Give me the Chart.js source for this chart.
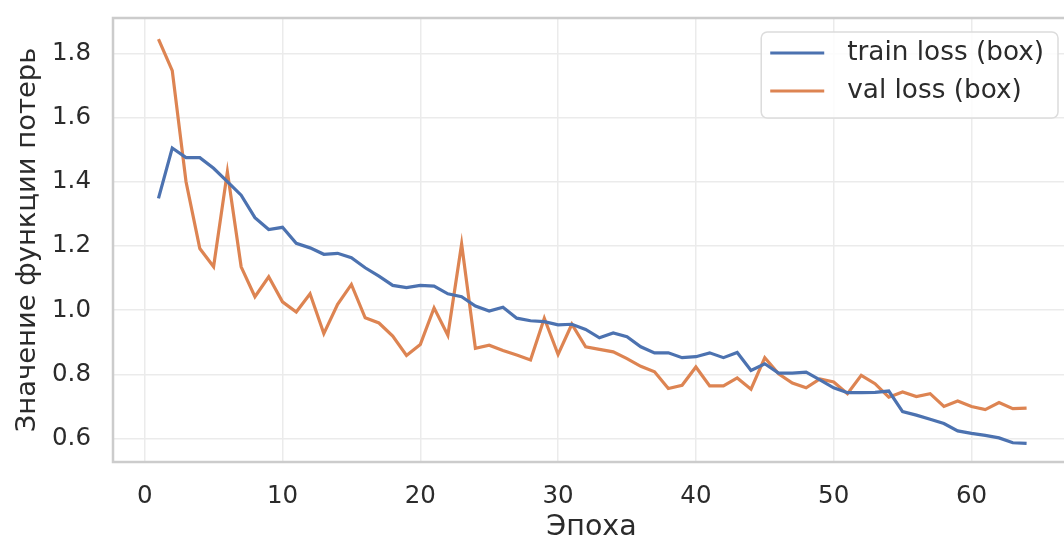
<!DOCTYPE html>
<html>
<head>
<meta charset="utf-8">
<script src="https://cdn.jsdelivr.net/npm/chart.js@4.4.1/dist/chart.umd.min.js"></script>
<style>
  html, body { margin: 0; padding: 0; background: #ffffff; width: 1064px; height: 547px; overflow: hidden; }
  #wrap { position: absolute; left: 0; top: 0; width: 1072px; height: 547px; }
</style>
</head>
<body>
<div id="wrap"><canvas id="c" width="1072" height="547"></canvas></div>
<script>
const epochs = [1,2,3,4,5,6,7,8,9,10,11,12,13,14,15,16,17,18,19,20,21,22,23,24,25,26,27,28,29,30,31,32,
  33,34,35,36,37,38,39,40,41,42,43,44,45,46,47,48,49,50,51,52,53,54,55,56,57,58,59,60,61,62,63,64];
const trainLoss = [1.348,1.505,1.475,1.475,1.442,1.400,1.358,1.288,1.251,1.258,1.208,1.194,1.174,1.177,1.163,1.132,
  1.106,1.077,1.070,1.077,1.075,1.051,1.042,1.013,0.997,1.009,0.975,0.967,0.964,0.954,0.956,0.940,
  0.914,0.929,0.917,0.886,0.867,0.867,0.852,0.855,0.867,0.852,0.868,0.812,0.833,0.804,0.804,0.807,
  0.783,0.758,0.743,0.743,0.744,0.748,0.684,0.673,0.660,0.647,0.624,0.616,0.610,0.602,0.587,0.585];
const valLoss = [1.844,1.746,1.400,1.192,1.135,1.431,1.135,1.042,1.104,1.026,0.994,1.051,0.927,1.018,1.080,0.976,
  0.960,0.919,0.859,0.893,1.007,0.922,1.206,0.881,0.891,0.874,0.860,0.845,0.975,0.862,0.956,0.886,
  0.878,0.870,0.849,0.825,0.808,0.756,0.766,0.823,0.764,0.764,0.789,0.754,0.852,0.802,0.773,0.758,
  0.786,0.776,0.740,0.797,0.771,0.729,0.745,0.731,0.740,0.700,0.717,0.700,0.690,0.712,0.693,0.695];
const xTicks = [0,10,20,30,40,50,60];
const yTicks = [0.6,0.8,1.0,1.2,1.4,1.6,1.8];
const seriesLabels = ['train loss (box)', 'val loss (box)'];
const xTitle = 'Эпоха';
const yTitle = 'Значение функции потерь';

const FONT = "'DejaVu Sans', sans-serif";
const TEXT = '#2b2b2b';

const framePlugin = {
  id: 'frame',
  afterDatasetsDraw(chart) {
    const {ctx, chartArea: a} = chart;
    ctx.save();
    ctx.strokeStyle = '#cccccc';
    ctx.lineWidth = 2.5;
    ctx.strokeRect(a.left, a.top, a.right - a.left, a.bottom - a.top);
    ctx.restore();
  }
};

const legendPlugin = {
  id: 'boxLegend',
  afterDraw(chart) {
    const {ctx, chartArea: a} = chart;
    const ds = chart.data.datasets;
    ctx.save();
    ctx.font = "26.3px " + FONT;
    let tw = 0;
    ds.forEach(d => { tw = Math.max(tw, ctx.measureText(d.label).width); });
    const padL = 9, lineLen = 54, gap = 23, padR = 14, rowH = 38, padT = 2;
    const w = padL + lineLen + gap + tw + padR;
    const h = padT * 2 + rowH * ds.length + 6;
    const x0 = a.right - 12 - w;
    const y0 = a.top + 14;
    const r = 6;
    ctx.beginPath();
    ctx.moveTo(x0 + r, y0);
    ctx.arcTo(x0 + w, y0, x0 + w, y0 + h, r);
    ctx.arcTo(x0 + w, y0 + h, x0, y0 + h, r);
    ctx.arcTo(x0, y0 + h, x0, y0, r);
    ctx.arcTo(x0, y0, x0 + w, y0, r);
    ctx.closePath();
    ctx.fillStyle = 'rgba(255,255,255,0.85)';
    ctx.fill();
    ctx.strokeStyle = '#dcdcdc';
    ctx.lineWidth = 1.5;
    ctx.stroke();
    ds.forEach((d, i) => {
      const cy = y0 + 21 + i * rowH;
      ctx.strokeStyle = d.borderColor;
      ctx.lineWidth = 3;
      ctx.beginPath();
      ctx.moveTo(x0 + padL, cy);
      ctx.lineTo(x0 + padL + lineLen, cy);
      ctx.stroke();
      ctx.fillStyle = TEXT;
      ctx.textBaseline = 'middle';
      ctx.textAlign = 'left';
      ctx.fillText(d.label, x0 + padL + lineLen + gap, cy);
    });
    ctx.restore();
  }
};

new Chart(document.getElementById('c'), {
  type: 'line',
  data: {
    datasets: [
      { label: seriesLabels[0], data: epochs.map((e, i) => ({x: e, y: trainLoss[i]})),
        borderColor: '#4C72B0', backgroundColor: '#4C72B0', borderWidth: 3.2, pointRadius: 0, tension: 0 },
      { label: seriesLabels[1], data: epochs.map((e, i) => ({x: e, y: valLoss[i]})),
        borderColor: '#DD8452', backgroundColor: '#DD8452', borderWidth: 3.2, pointRadius: 0, tension: 0 }
    ]
  },
  options: {
    responsive: false,
    animation: false,
    devicePixelRatio: 1,
    layout: { padding: { top: 18, right: 2, left: 0, bottom: 0 } },
    plugins: { legend: { display: false }, tooltip: { enabled: false } },
    scales: {
      x: {
        type: 'linear', min: -2.3, max: 67.15,
        afterFit(s) { s.height = 85; s.paddingLeft = 0; s.paddingRight = 0; },
        afterBuildTicks(s) { s.ticks = xTicks.map(v => ({value: v})); },
        grid: { color: '#ebebeb', lineWidth: 1.5, drawTicks: false },
        border: { display: false },
        ticks: { padding: 20, color: TEXT, font: { family: FONT, size: 24.5 }, maxRotation: 0,
                 callback: v => String(v) },
        title: { display: true, text: xTitle, color: TEXT, font: { family: FONT, size: 28.5 },
                 padding: { top: 0, bottom: 2 } }
      },
      y: {
        type: 'linear', min: 0.527, max: 1.91,
        afterFit(s) { s.width = 113; s.paddingTop = 0; s.paddingBottom = 0; },
        afterBuildTicks(s) { s.ticks = yTicks.map(v => ({value: v})); },
        grid: { color: '#ebebeb', lineWidth: 1.5, drawTicks: false },
        border: { display: false },
        ticks: { padding: 22, color: TEXT, font: { family: FONT, size: 24.5 },
                 callback: v => Number(v).toFixed(1) },
        title: { display: true, text: yTitle, color: TEXT, font: { family: FONT, size: 27.4 },
                 padding: { top: 11.5, bottom: 0 } }
      }
    }
  },
  plugins: [framePlugin, legendPlugin]
});
</script>
</body>
</html>
